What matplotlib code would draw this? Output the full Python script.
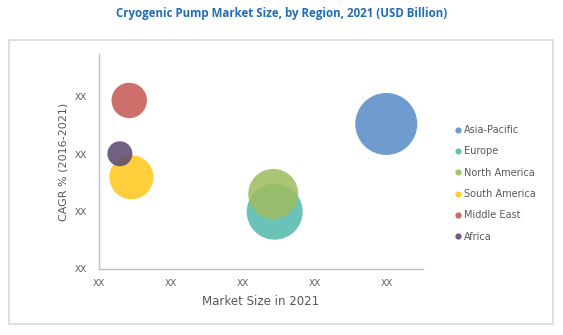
import matplotlib
matplotlib.use('Agg')
import matplotlib.pyplot as plt
from matplotlib.patches import Rectangle
from matplotlib.lines import Line2D

regions = ['Asia-Pacific', 'Europe', 'North America', 'South America', 'Middle East', 'Africa']
market_size = [3.99, 2.44, 2.42, 0.45, 0.42, 0.29]
cagr = [2.53, 1.00, 1.31, 1.60, 2.94, 2.01]
bubble = [961, 784, 625, 484, 313, 156]
colors = ['#5b8fc9', '#56bbad', '#9dbd62', '#ffc81e', '#c65b57', '#5e4a72']
tick_labels = ['XX'] * 5

fig = plt.figure(figsize=(5.63, 3.35), dpi=100)
fig.patch.set_facecolor('white')

# outer frame and the rule under the title
fig.add_artist(Rectangle((9 / 563, 1 - 324 / 335), 544 / 563, 284.5 / 335,
                         transform=fig.transFigure, fill=False,
                         edgecolor='#d9d9d9', linewidth=1.2))
fig.text(0.5, 1 - 14 / 335, 'Cryogenic Pump Market Size, by Region, 2021 (USD Billion)',
         ha='center', va='center', fontsize=8.3, fontweight='bold',
         color='#1f6db4', family='Open Sans')

ax = fig.add_axes([99 / 563, 1 - 269 / 335, 324 / 563, 215 / 335])
ax.set_xlim(0, 4.5)
ax.set_ylim(0, 3.75)

# bubble radius in px -> marker area in pt^2
px = 72 / fig.dpi
for x, y, b, c, name in zip(market_size, cagr, bubble, colors, regions):
    s = (2 * b ** 0.5 * px) ** 2
    ax.scatter(x, y, s=s, color=c, alpha=0.88, edgecolors='none', zorder=3, label=name)

ax.set_xticks(range(5))
ax.set_xticklabels(tick_labels)
ax.set_yticks(range(4))
ax.set_yticklabels(tick_labels[:4])
ax.tick_params(length=0, labelsize=6.5, colors='#595959')
ax.tick_params(axis='x', pad=7)
ax.tick_params(axis='y', pad=9)
for side in ['top', 'right']:
    ax.spines[side].set_visible(False)
for side in ['left', 'bottom']:
    ax.spines[side].set_color('#bfbfbf')
    ax.spines[side].set_linewidth(1)

fig.text(261 / 563, 1 - 301.5 / 335, 'Market Size in 2021', ha='center', va='center',
         fontsize=8.5, color='#595959')
fig.text(64 / 563, 1 - 161.5 / 335, 'CAGR % (2016-2021)', ha='center', va='center',
         rotation=90, fontsize=8, color='#595959')

handles = [Line2D([], [], marker='o', linestyle='none', markersize=4.5,
                  markerfacecolor=c, markeredgecolor='none', alpha=0.9) for c in colors]
leg = fig.legend(handles, regions, loc='upper left',
                 bbox_to_anchor=(455 / 563, 1 - 125 / 335), frameon=False,
                 fontsize=7, handlelength=0.6, handletextpad=0.3,
                 labelspacing=1.165, borderaxespad=0, borderpad=0)
for t in leg.get_texts():
    t.set_color('#595959')

fig.savefig('out.png', dpi=100, facecolor='white')
